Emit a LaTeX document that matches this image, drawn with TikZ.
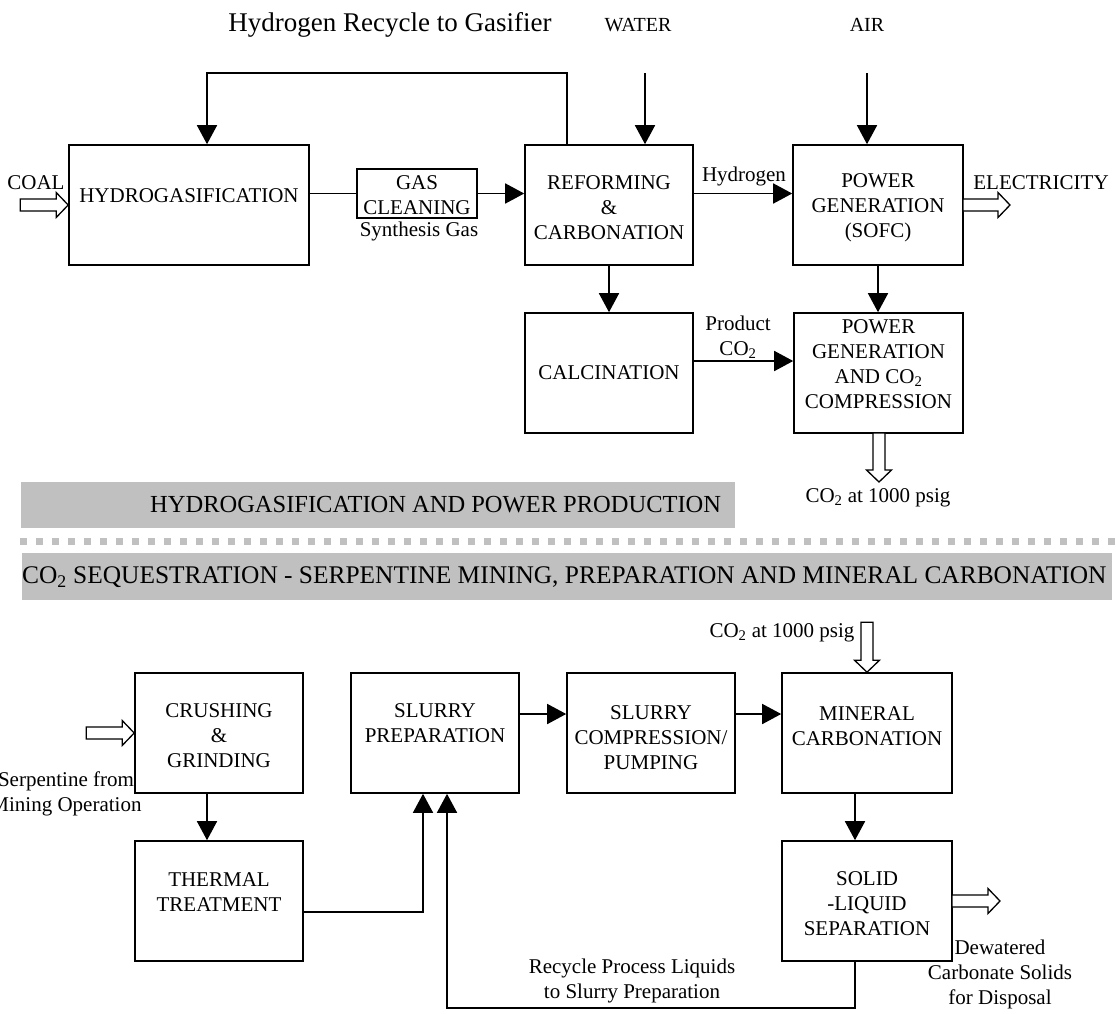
\documentclass[tikz,border=0pt]{standalone}
\usepackage{fontspec}
\setmainfont{Liberation Serif}
\usetikzlibrary{arrows.meta}
\definecolor{band}{RGB}{192,192,192}
\newcommand{\hollowarrow}[3]{\draw[hollow, shift={(#1)}, rotate=#2] (0,0) -- (-12,-12.5) -- (-12,-6) -- (-#3,-6) -- (-#3,6) -- (-12,6) -- (-12,12.5) -- cycle;}
\begin{document}
\begin{tikzpicture}[x=1pt,y=-1pt,
  box/.style={draw, line width=1.6pt, inner sep=0pt, minimum width=168pt, minimum height=120pt},
  txt/.style={font=\fontsize{21}{25}\selectfont, align=center, inner sep=0pt},
  ttl/.style={font=\fontsize{24.5}{29}\selectfont, inner sep=0pt},
  ln/.style={line width=1.6pt},
  arr/.style={ln, -{Triangle[length=19pt,width=20pt]}},
  hollow/.style={draw, line width=1.3pt, fill=white, line join=miter},
]
\useasboundingbox (0,0) rectangle (1116,1013);

% ---------- upper boxes ----------
\node[box, minimum width=240pt] (hyd) at (189,205) {};
\node[txt] (hydT) at (189,196) {HYDROGASIFICATION};
\node[box, minimum width=120pt, minimum height=49pt] (gc) at (417,193.5) {};
\node[txt] (gcT) at (417,195) {GAS\\CLEANING};
\node[box] (ref) at (609,205) {};
\node[txt] (refT) at (609,208) {REFORMING\\\&\\CARBONATION};
\node[box, minimum width=170pt] (sofc) at (878,205) {};
\node[txt] (sofcT) at (878,208) {POWER\\GENERATION\\(SOFC)};
\node[box] (calc) at (609,373) {};
\node[txt] (calcT) at (609,373) {CALCINATION};
\node[box, minimum width=169pt] (pgc) at (878.5,373) {};
\node[txt] (pgcT) at (878.5,364) {POWER\\GENERATION\\AND CO\textsubscript{2}\\COMPRESSION};

% ---------- upper labels ----------
\node[txt, font=\fontsize{27}{31}\selectfont] (recT) at (390,25) {Hydrogen Recycle to Gasifier};
\node[txt, font=\fontsize{20}{24}\selectfont] (waterT) at (638,25) {WATER};
\node[txt, font=\fontsize{20}{24}\selectfont] (airT) at (867,25) {AIR};
\node[txt] (coalT) at (36,183) {COAL};
\node[txt] (elecT) at (1041,183) {ELECTRICITY};
\node[txt] (synT) at (419,231) {Synthesis Gas};
\node[txt] (h2T) at (744,176) {Hydrogen};
\node[txt] (prodT) at (738,337) {Product\\CO\textsubscript{2}};
\node[txt] (co2aT) at (878,498) {CO\textsubscript{2} at 1000 psig};

% ---------- upper connectors ----------
\coordinate (recA) at (567,73);
\coordinate (recB) at (207,73);
\draw[arr] (recA |- ref.north) -- (recA) -- (recB) -- (recB |- hyd.north);
\coordinate (waterTop) at (645,73);
\draw[arr] (waterTop) -- (waterTop |- ref.north);
\coordinate (airTop) at (867,73);
\draw[arr] (airTop) -- (airTop |- sofc.north);
\draw[ln] (hyd.east |- gc.west) -- (gc.west);
\draw[arr] (gc.east) -- (gc.east -| ref.west);
\draw[arr] (ref.east |- gc.east) -- (sofc.west |- gc.east);
\draw[arr] (ref.south) -- (calc.north);
\draw[arr] (sofc.south) -- (sofc.south |- pgc.north);
\coordinate (pc) at (740,361);
\draw[arr] (calc.east |- pc) -- (pgc.west |- pc);

\coordinate (elecTip) at (1010,205);
\coordinate (pgcOut) at (879,482);
\hollowarrow{hyd.west}{0}{48}
\hollowarrow{elecTip}{0}{47}
\hollowarrow{pgcOut}{-90}{49}

% ---------- bands ----------
\node[fill=band, minimum width=714pt, minimum height=46pt, inner sep=0pt] (band1) at (378,505) {};
\node[ttl, anchor=west] (t1) at (150,505) {HYDROGASIFICATION AND POWER PRODUCTION};
\draw[band, line width=7pt, dash pattern=on 7pt off 9pt] (20,541.5) -- (1116,541.5);
\node[fill=band, minimum width=1090pt, minimum height=47pt, inner sep=0pt] (band2) at (567,576.5) {};
\node[ttl, font=\fontsize{25.4}{30}\selectfont, anchor=west] (t2) at (22,577) {CO\textsubscript{2} SEQUESTRATION - SERPENTINE MINING, PREPARATION AND MINERAL CARBONATION};

% ---------- lower boxes ----------
\node[box] (crush) at (219,733) {};
\node[txt] (crushT) at (219,736) {CRUSHING\\\&\\GRINDING};
\node[box] (therm) at (219,901) {};
\node[txt] (thermT) at (219,892) {THERMAL\\TREATMENT};
\node[box] (slp) at (435,733) {};
\node[txt] (slpT) at (435,723) {SLURRY\\PREPARATION};
\node[box] (slc) at (651,733) {};
\node[txt] (slcT) at (651,738) {SLURRY\\COMPRESSION/\\PUMPING};
\node[box, minimum width=170pt] (mc) at (867,733) {};
\node[txt] (mcT) at (867,726) {MINERAL\\CARBONATION};
\node[box, minimum width=170pt] (sls) at (867,901) {};
\node[txt] (slsT) at (867,904) {SOLID\\-LIQUID\\SEPARATION};

% ---------- lower labels ----------
\node[txt] (co2bT) at (782,633) {CO\textsubscript{2} at 1000 psig};
\node[txt] (serpT) at (66,794) {Serpentine from\\Mining Operation};
\node[txt] (dewT) at (1000,974) {Dewatered\\Carbonate Solids\\for Disposal};
\node[txt] (rcyT) at (632,981) {Recycle Process Liquids\\to Slurry Preparation};

% ---------- lower connectors ----------
\coordinate (b1) at (540,714);
\draw[arr] (slp.east |- b1) -- (slc.west |- b1);
\draw[arr] (slc.east |- b1) -- (mc.west |- b1);
\coordinate (ct) at (207,800);
\draw[arr] (ct |- crush.south) -- (ct |- therm.north);
\coordinate (ms) at (855,800);
\draw[arr] (ms |- mc.south) -- (ms |- sls.north);
\coordinate (th1) at (423,912);
\draw[arr] (therm.east |- th1) -- (th1) -- (th1 |- slp.south);
\coordinate (rc1) at (855,1008);
\coordinate (rc2) at (447,1008);
\draw[arr] (rc1 |- sls.south) -- (rc1) -- (rc2) -- (rc2 |- slp.south);

\coordinate (slsOut) at (1000,901);
\hollowarrow{mc.north}{-90}{50}
\hollowarrow{crush.west}{0}{48}
\hollowarrow{slsOut}{0}{48}
\end{tikzpicture}
\end{document}
